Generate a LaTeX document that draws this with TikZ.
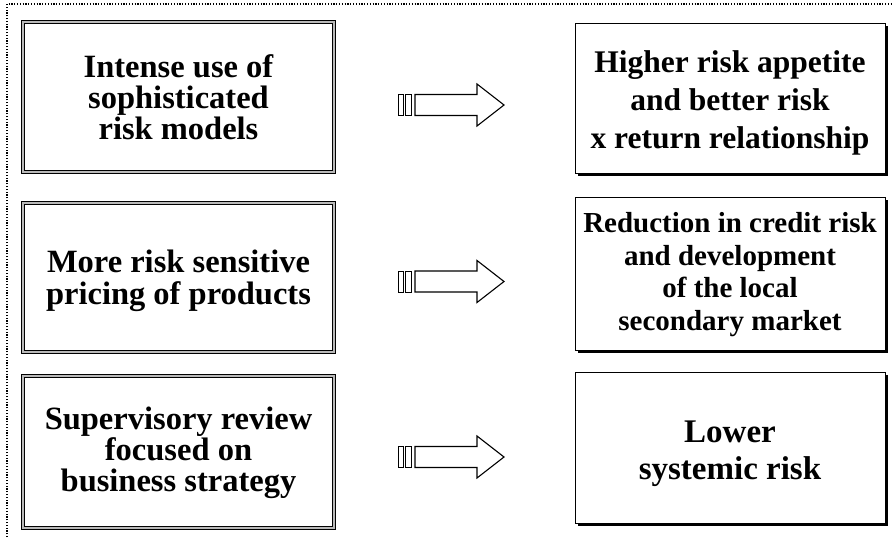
\documentclass[tikz,border=0pt]{standalone}
\usepackage{fontspec}
\setmainfont{Liberation Serif}
\usetikzlibrary{shadows}
\begin{document}
\begin{tikzpicture}[x=1pt,y=-1pt,
  leftbox/.style={draw=black, line width=0.8pt, double=gray!55, double distance=1.6pt,
    minimum width=311pt, inner sep=0pt},
  rightbox/.style={draw=black, line width=1pt, fill=white, minimum width=310pt, inner sep=0pt,
    drop shadow={shadow xshift=3pt, shadow yshift=-3pt, fill=black, opacity=1}},
  boxtext/.style={align=center, inner sep=0pt, font=\fontsize{32.5}{31}\selectfont\bfseries},
  blockarrow/.style={draw=black, line width=1.1pt, line join=miter},
  frameline/.style={line width=1.2pt, dash pattern=on 1.2pt off 1.6pt}
]
\useasboundingbox (0,0) rectangle (893,538);
\draw[frameline] (7,540) -- (7,4) -- (895,4);

\node[leftbox, minimum height=150pt] (l1) at (178.5,97) {};
\node[leftbox, minimum height=149pt] (l2) at (178.5,277.5) {};
\node[leftbox, minimum height=152pt] (l3) at (178.5,452) {};
\node[boxtext] (l1t) at ([yshift=-0.5pt]l1.center) {Intense use of\\sophisticated\\risk models};
\node[boxtext, font=\fontsize{32.5}{32}\selectfont\bfseries] (l2t) at ([yshift=-3.5pt]l2.center) {More risk sensitive\\pricing of products};
\node[boxtext] (l3t) at ([yshift=-0.5pt]l3.center) {Supervisory review\\focused on\\business strategy};

\node[rightbox, minimum height=150pt] (r1) at (730,98) {};
\node[rightbox, minimum height=153pt] (r2) at (730,273.5) {};
\node[rightbox, minimum height=151pt] (r3) at (730,447.5) {};
\node[boxtext, font=\fontsize{31.5}{38}\selectfont\bfseries] (r1t) at ([yshift=-5pt]r1.center) {Higher risk appetite\\and better risk\\x return relationship};
\node[boxtext, font=\fontsize{29}{32.5}\selectfont\bfseries] (r2t) at ([yshift=-1pt]r2.center) {Reduction in credit risk\\and development\\of the local\\secondary market};
\node[boxtext, font=\fontsize{33}{36.5}\selectfont\bfseries] (r3t) at ([yshift=-6pt]r3.center) {Lower\\systemic risk};

\foreach \yy in {105, 281.5, 457}{
  \draw[blockarrow] (415,\yy-10.5) -- (477,\yy-10.5) -- (477,\yy-21) -- (504,\yy) -- (477,\yy+21) -- (477,\yy+10.5) -- (415,\yy+10.5) -- cycle;
  \draw[blockarrow, line width=1pt] (398.5,\yy-10.5) rectangle (403,\yy+10.5);
  \draw[blockarrow, line width=1pt] (405.5,\yy-10.5) rectangle (411.5,\yy+10.5);
}
\end{tikzpicture}
\end{document}
